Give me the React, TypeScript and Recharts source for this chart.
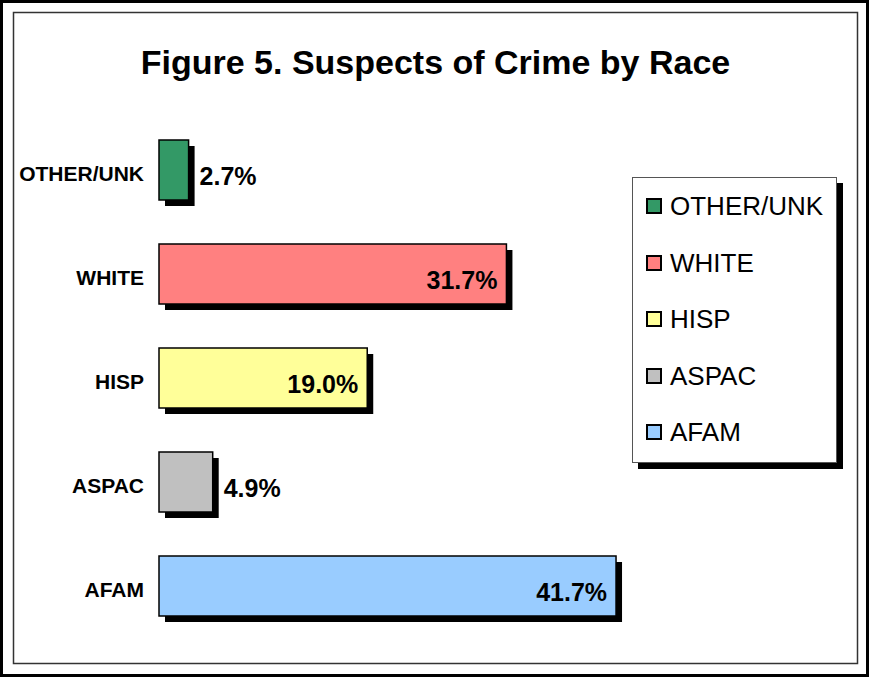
import React from "react";
import { Bar, BarChart, LabelList, Legend, XAxis, YAxis } from "recharts";

const races = ["OTHER/UNK", "WHITE", "HISP", "ASPAC", "AFAM"];
const shares = [2.7, 31.7, 19.0, 4.9, 41.7];
const colors = ["#339966", "#FF8080", "#FFFF99", "#C0C0C0", "#99CCFF"];

const FONT = '"Liberation Sans", Arial, sans-serif';
const W = 869;
const H = 677;

const rows = races.map((race, i) => ({ race, share: shares[i], color: colors[i] }));

// bar with a hard black drop shadow
function ShadowBar(props: any) {
  const { x, y, width, height, payload } = props;
  if (width == null || height == null) return null;
  return (
    <g>
      <rect x={x + 6} y={y + 6} width={width} height={height} fill="#000" />
      <rect x={x} y={y} width={width} height={height} fill={payload.color} stroke="#000" strokeWidth={1.5} />
    </g>
  );
}

function ValueLabel(props: any) {
  const vb = props.viewBox ?? props;
  const x = Number(props.x ?? vb.x);
  const y = Number(props.y ?? vb.y);
  const width = Number(props.width ?? vb.width);
  const height = Number(props.height ?? vb.height);
  const inside = width > 100;
  const right = x + width;
  return (
    <text
      x={inside ? right - 9 : right + 11}
      y={y + height / 2 + 14.5}
      textAnchor={inside ? "end" : "start"}
      fontFamily={FONT}
      fontWeight="bold"
      fontSize={25}
      fill="#000"
    >
      {Number(props.value).toFixed(1)}%
    </text>
  );
}

function RaceTick(props: any) {
  const { x, y, payload } = props;
  return (
    <text x={x} y={y + 11} textAnchor="end" fontFamily={FONT} fontWeight="bold" fontSize={21} fill="#000">
      {payload.value}
    </text>
  );
}

function RaceLegend() {
  return (
    <div
      style={{
        width: 203,
        height: 277,
        background: "#fff",
        border: "1px solid #555",
        boxShadow: "6px 6px 0 #000",
        boxSizing: "content-box",
        paddingTop: 7,
      }}
    >
      {rows.map((r) => (
        <div key={r.race} style={{ position: "relative", height: 56.6 }}>
          <div
            style={{
              position: "absolute",
              left: 13,
              top: 13,
              width: 12,
              height: 12,
              background: r.color,
              border: "2px solid #000",
            }}
          />
          <div
            style={{
              position: "absolute",
              left: 37,
              top: 6,
              fontFamily: FONT,
              fontSize: 26,
              lineHeight: "30px",
              color: "#000",
              whiteSpace: "nowrap",
            }}
          >
            {r.race}
          </div>
        </div>
      ))}
    </div>
  );
}

export default function App() {
  return (
    <div style={{ position: "absolute", left: 0, top: 0, width: W, height: H, background: "#fff" }}>
      <svg width={W} height={H} style={{ position: "absolute", left: 0, top: 0 }}>
        <rect x={1.5} y={1.5} width={W - 3} height={H - 3} fill="none" stroke="#000" strokeWidth={3} />
        <rect x={13.5} y={12.5} width={844} height={651} fill="none" stroke="#333" strokeWidth={1.5} />
        <text x={435.5} y={74} textAnchor="middle" fontFamily={FONT} fontWeight="bold" fontSize={34} fill="#000">
          Figure 5. Suspects of Crime by Race
        </text>
      </svg>
      <div style={{ position: "absolute", left: 0, top: 0 }}>
        <BarChart
          width={W}
          height={H}
          data={rows}
          layout="vertical"
          margin={{ top: 118, right: 162, bottom: 39, left: 15 }}
        >
          <XAxis type="number" domain={[0, 50]} hide />
          <YAxis
            type="category"
            dataKey="race"
            width={144}
            axisLine={false}
            tickLine={false}
            tickSize={0}
            tickMargin={15}
            tick={<RaceTick />}
          />
          <Legend
            verticalAlign="middle"
            content={<RaceLegend />}
            wrapperStyle={{ position: "absolute", left: 632, top: 177, width: "auto" }}
          />
          <Bar dataKey="share" barSize={60} shape={<ShadowBar />} isAnimationActive={false}>
            <LabelList dataKey="share" content={<ValueLabel />} />
          </Bar>
        </BarChart>
      </div>
    </div>
  );
}
